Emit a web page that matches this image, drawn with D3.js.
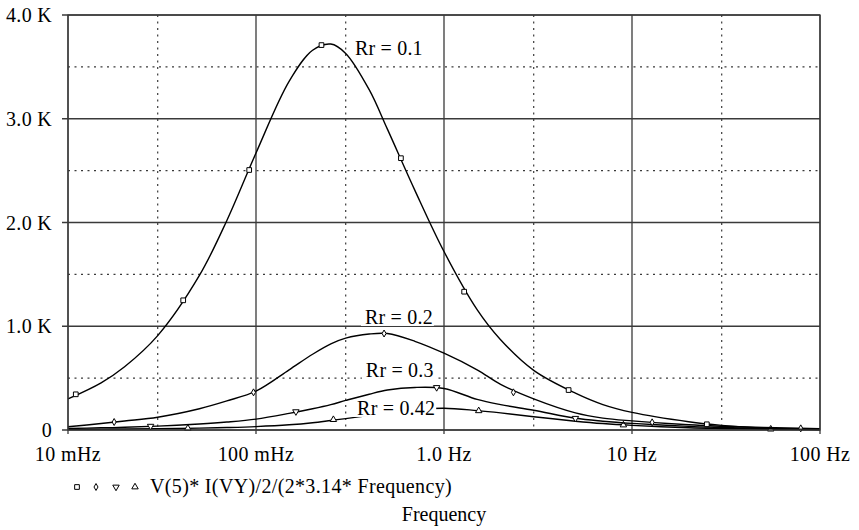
<!DOCTYPE html>
<html>
<head>
<meta charset="utf-8">
<script src="https://cdn.jsdelivr.net/npm/d3@7"></script>
<style>
  body { margin: 0; background: #fff; }
  svg { display: block; }
  text { font-family: "Liberation Serif", "Times New Roman", serif; fill: #000; }
</style>
</head>
<body>
<div id="chart"></div>
<script>
// frequency grid (Hz) and the four traces (values in K)
const freqs = [0.01, 0.015, 0.02, 0.03, 0.05, 0.07, 0.1, 0.15, 0.2, 0.25, 0.3, 0.4, 0.5, 0.7, 1, 1.5, 2, 3, 5, 7, 10, 20, 30, 50, 100];
const rr01 = [0.30, 0.455, 0.61, 0.91, 1.49, 2.02, 2.67, 3.36, 3.66, 3.72, 3.63, 3.28, 2.90, 2.31, 1.72, 1.16, 0.87, 0.575, 0.355, 0.245, 0.17, 0.08, 0.045, 0.018, 0.004];
const rr02 = [0.032, 0.062, 0.087, 0.123, 0.205, 0.28, 0.375, 0.58, 0.73, 0.83, 0.885, 0.925, 0.93, 0.855, 0.74, 0.58, 0.44, 0.30, 0.165, 0.115, 0.088, 0.05, 0.036, 0.024, 0.012];
const rr03 = [0.015, 0.021, 0.026, 0.037, 0.058, 0.077, 0.105, 0.16, 0.205, 0.245, 0.285, 0.345, 0.385, 0.41, 0.40, 0.295, 0.245, 0.19, 0.113, 0.085, 0.064, 0.035, 0.025, 0.015, 0.006];
const rr042 = [0.006, 0.008, 0.010, 0.013, 0.018, 0.024, 0.033, 0.05, 0.07, 0.092, 0.11, 0.14, 0.165, 0.195, 0.21, 0.187, 0.165, 0.128, 0.085, 0.062, 0.045, 0.022, 0.015, 0.009, 0.004];

// marker points
const rr01MarkF = [0.011, 0.041, 0.092, 0.223, 0.59, 1.28, 4.6, 25];
const rr01MarkV = [0.344, 1.25, 2.506, 3.71, 2.62, 1.333, 0.385, 0.055];
const rr02MarkF = [0.0176, 0.097, 0.48, 2.34, 12.8, 79];
const rr02MarkV = [0.077, 0.363, 0.93, 0.363, 0.074, 0.016];
const rr03MarkF = [0.0275, 0.163, 0.914, 5.0];
const rr03MarkV = [0.037, 0.177, 0.41, 0.113];
const rr042MarkF = [0.0434, 0.258, 1.53, 9.0, 54.7];
const rr042MarkV = [0.016, 0.10, 0.185, 0.048, 0.008];

const seriesNames = ['Rr = 0.1', 'Rr = 0.2', 'Rr = 0.3', 'Rr = 0.42'];
const xTicks = [0.01, 0.1, 1, 10, 100];
const xTickLabels = ['10 mHz', '100 mHz', '1.0 Hz', '10 Hz', '100 Hz'];
const xMinorTicks = [0.03, 0.3, 3, 30];
const yTicks = [0, 1, 2, 3, 4];
const yTickLabels = ['0', '1.0 K', '2.0 K', '3.0 K', '4.0 K'];
const yMinorTicks = [0.5, 1.5, 2.5, 3.5];
const legendText = 'V(5)* I(VY)/2/(2*3.14* Frequency)';
const xTitle = 'Frequency';

const W = 859, H = 530;
const margin = { top: 15, right: 39, bottom: 100, left: 68 };
const width = W - margin.left - margin.right;
const height = H - margin.top - margin.bottom;

const svg = d3.select('#chart').append('svg')
    .attr('width', W)
    .attr('height', H);

const g = svg.append('g')
    .attr('transform', `translate(${margin.left},${margin.top})`);

const x = d3.scaleLog().domain([0.01, 100]).range([0, width]);
const y = d3.scaleLinear().domain([0, 4]).range([height, 0]);

const gridColor = '#3a3a3a';

// dotted grid
g.append('g').selectAll('line')
    .data(xMinorTicks).enter().append('line')
    .attr('x1', d => x(d)).attr('x2', d => x(d))
    .attr('y1', 0).attr('y2', height)
    .attr('stroke', gridColor).attr('stroke-width', 1.2)
    .attr('stroke-dasharray', '2,4.5');
g.append('g').selectAll('line')
    .data(yMinorTicks).enter().append('line')
    .attr('x1', 0).attr('x2', width)
    .attr('y1', d => y(d)).attr('y2', d => y(d))
    .attr('stroke', gridColor).attr('stroke-width', 1.2)
    .attr('stroke-dasharray', '2,4.5');

// solid grid
g.append('g').selectAll('line')
    .data(xTicks).enter().append('line')
    .attr('x1', d => x(d)).attr('x2', d => x(d))
    .attr('y1', 0).attr('y2', height + 4)
    .attr('stroke', gridColor).attr('stroke-width', 1.3);
g.append('g').selectAll('line')
    .data(yTicks).enter().append('line')
    .attr('x1', -6).attr('x2', width)
    .attr('y1', d => y(d)).attr('y2', d => y(d))
    .attr('stroke', gridColor).attr('stroke-width', 1.3);

// axis labels
g.append('g').selectAll('text')
    .data(yTicks).enter().append('text')
    .attr('x', -16)
    .attr('y', d => y(d) + 7)
    .attr('text-anchor', 'end')
    .style('font-size', '20px')
    .style('letter-spacing', '0.3px')
    .text((d, i) => yTickLabels[i]);

g.append('g').selectAll('text')
    .data(xTicks).enter().append('text')
    .attr('x', d => x(d))
    .attr('y', height + 31)
    .attr('text-anchor', 'middle')
    .style('font-size', '20px')
    .style('letter-spacing', '0.4px')
    .text((d, i) => xTickLabels[i]);

// traces
const line = d3.line()
    .x(d => x(d[0]))
    .y(d => y(d[1]))
    .curve(d3.curveCatmullRom.alpha(0.5));

const traces = [rr01, rr02, rr03, rr042].map(vals => freqs.map((f, i) => [f, vals[i]]));
const marks = [
    d3.zip(rr01MarkF, rr01MarkV),
    d3.zip(rr02MarkF, rr02MarkV),
    d3.zip(rr03MarkF, rr03MarkV),
    d3.zip(rr042MarkF, rr042MarkV)
];

const symbols = [
    d3.symbol().type(d3.symbolSquare).size(22),
    d3.symbol().type(d3.symbolDiamond).size(14),
    d3.symbol().type(d3.symbolTriangle).size(18),
    d3.symbol().type(d3.symbolTriangle).size(18)
];
const symRotate = [0, 0, 180, 0];

function drawTrace(i) {
    g.append('path')
        .datum(traces[i])
        .attr('d', line)
        .attr('fill', 'none')
        .attr('stroke', '#000')
        .attr('stroke-width', 1.4);
    g.append('g').selectAll('path')
        .data(marks[i]).enter().append('path')
        .attr('d', symbols[i])
        .attr('transform', d => `translate(${x(d[0])},${y(d[1])}) rotate(${symRotate[i]})`)
        .attr('fill', '#fff')
        .attr('stroke', '#000')
        .attr('stroke-width', 1);
}

// trace labels (opaque, like the probe window text)
const labelAt = [[0.336, 3.614], [0.38, 1.022], [0.384, 0.511], [0.345, 0.145]];
function drawLabel(i) {
    const t = g.append('text')
        .attr('x', x(labelAt[i][0]))
        .attr('y', y(labelAt[i][1]))
        .style('font-size', '20px')
        .style('letter-spacing', '0.2px')
        .text(seriesNames[i]);
    const bb = t.node().getBBox();
    g.insert('rect', () => t.node())
        .attr('x', bb.x - 4).attr('y', bb.y + 3)
        .attr('width', bb.width + 5).attr('height', bb.height - 5)
        .attr('fill', '#fff');
}

drawTrace(3);
drawLabel(3);
drawTrace(2);
drawTrace(1);
drawTrace(0);
drawLabel(0);
drawLabel(1);
drawLabel(2);

// frame
g.append('rect')
    .attr('width', width).attr('height', height)
    .attr('fill', 'none')
    .attr('stroke', gridColor).attr('stroke-width', 1.3);

// legend row
const legend = svg.append('g').attr('transform', `translate(0, ${H - 45})`);
[77, 96, 116, 135].forEach((lx, i) => {
    legend.append('path')
        .attr('d', symbols[i])
        .attr('transform', `translate(${lx},2) rotate(${symRotate[i]})`)
        .attr('fill', '#fff')
        .attr('stroke', '#000')
        .attr('stroke-width', 1);
});
legend.append('text')
    .attr('x', 150)
    .attr('y', 8)
    .style('font-size', '20px')
    .style('letter-spacing', '0.35px')
    .text(legendText);

svg.append('text')
    .attr('x', margin.left + width / 2)
    .attr('y', H - 9)
    .attr('text-anchor', 'middle')
    .style('font-size', '20px')
    .text(xTitle);
</script>
</body>
</html>
